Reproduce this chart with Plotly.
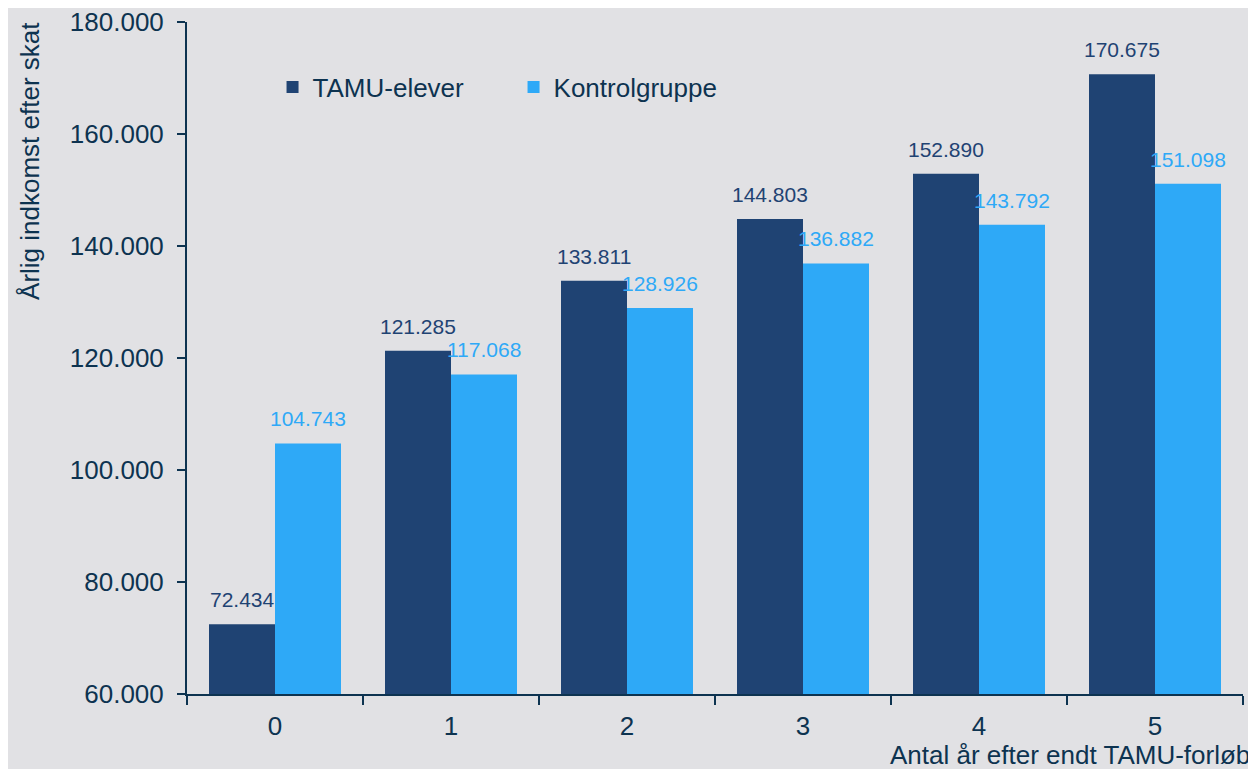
import plotly.graph_objects as go

categories = ["0", "1", "2", "3", "4", "5"]
tamu = [72434, 121285, 133811, 144803, 152890, 170675]
kontrol = [104743, 117068, 128926, 136882, 143792, 151098]
series_names = ["TAMU-elever", "Kontrolgruppe"]
y_title = "Årlig indkomst efter skat"
x_title = "Antal år efter endt TAMU-forløb"

DARK = "#1f4373"
LIGHT = "#2ea9f7"
AXIS = "#0d3350"
BG = "#e1e1e4"
FONT = "Liberation Sans, Arial, sans-serif"

fig = go.Figure()
fig.add_trace(go.Bar(x=categories, y=tamu, name=series_names[0],
                     marker_color=DARK, marker_line_width=0))
fig.add_trace(go.Bar(x=categories, y=kontrol, name=series_names[1],
                     marker_color=LIGHT, marker_line_width=0))

def fmt(v):
    return f"{v:,d}".replace(",", ".")

for vals, col, dx in ((tamu, DARK, -33), (kontrol, LIGHT, 33)):
    for c, v in zip(categories, vals):
        fig.add_annotation(x=c, y=v, text=fmt(v), showarrow=False,
                           xshift=dx, yshift=11, yanchor="bottom",
                           font=dict(size=21, color=col, family=FONT))

fig.update_layout(
    width=1248, height=761,
    paper_bgcolor=BG, plot_bgcolor=BG,
    separators=",.",
    barmode="group", bargap=0.25, bargroupgap=0,
    margin=dict(l=179, r=13, t=14, b=75),
    font=dict(family=FONT, color=AXIS, size=26),
    showlegend=True,
    legend=dict(orientation="h", x=0.081, y=0.903, xanchor="left", yanchor="middle",
                bgcolor="rgba(0,0,0,0)", font=dict(size=26, color=AXIS),
                itemwidth=30, entrywidth=196, entrywidthmode="pixels",
                traceorder="normal"),
)
fig.update_yaxes(
    range=[60000, 180000], dtick=20000, tickformat=",d",
    showgrid=False, zeroline=False, automargin=False,
    showline=True, linecolor=AXIS, linewidth=2,
    ticks="outside", ticklen=8, tickwidth=1.5, tickcolor=AXIS,
    ticklabelstandoff=8, ticklabeloverflow="allow",
    tickfont=dict(size=26, color=AXIS),
)
fig.update_xaxes(
    type="category",
    showgrid=False, zeroline=False, automargin=False,
    showline=True, linecolor=AXIS, linewidth=2,
    ticks="outside", tickson="boundaries", ticklen=9, tickwidth=1.5, tickcolor=AXIS,
    tickfont=dict(size=26, color=AXIS),
    ticklabelstandoff=8,
)
fig.add_annotation(
    text=y_title, textangle=-90, xref="paper", yref="paper",
    x=-0.1487, y=1.003, xanchor="center", yanchor="top",
    showarrow=False, font=dict(size=26, color=AXIS),
)
fig.add_annotation(
    text=x_title, xref="paper", yref="paper",
    x=1.0085, y=-0.066, xanchor="right", yanchor="top",
    showarrow=False, font=dict(size=26, color=AXIS),
)

fig.write_html("out.html")
